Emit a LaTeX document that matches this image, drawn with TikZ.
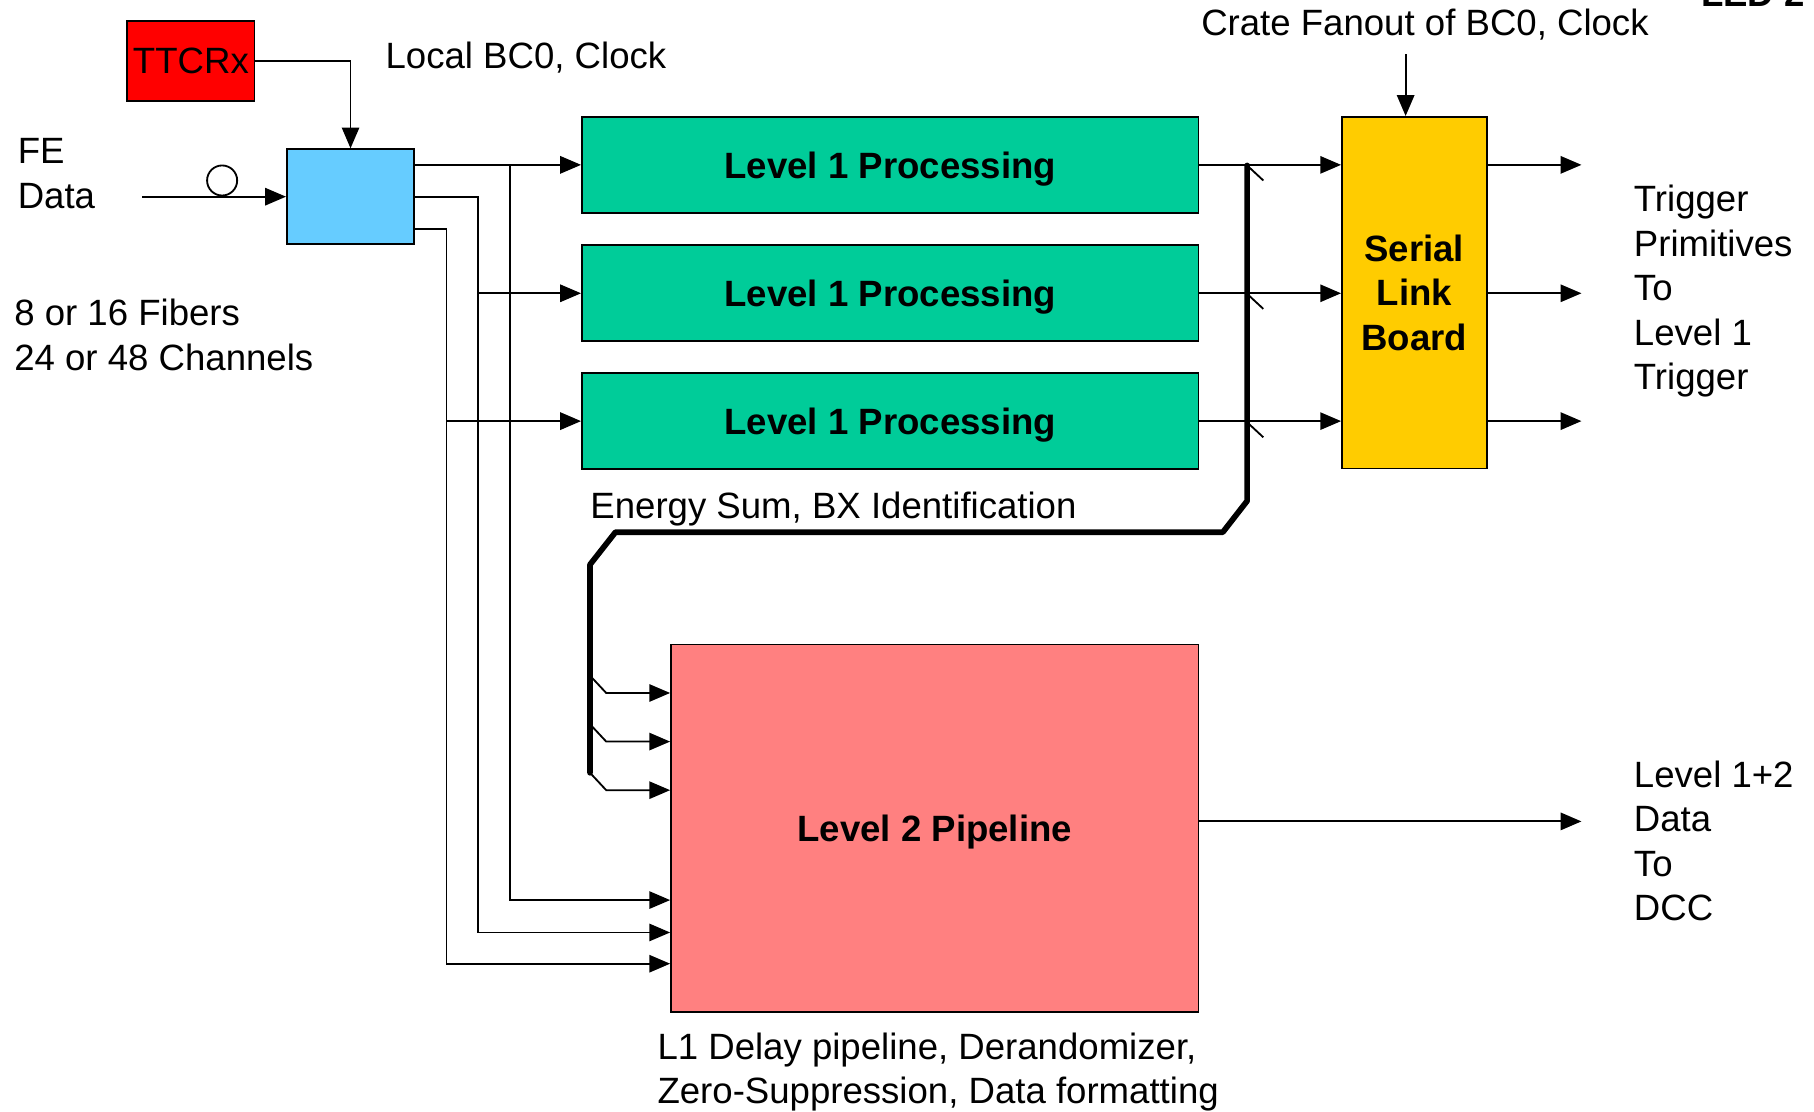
\documentclass[tikz,border=0pt]{standalone}
\usepackage{fontspec}
\setmainfont{Liberation Sans}
\usetikzlibrary{arrows.meta}
\definecolor{ttcred}{RGB}{255,0,0}
\definecolor{rxblue}{RGB}{102,204,255}
\definecolor{procgreen}{RGB}{0,204,153}
\definecolor{slbyellow}{RGB}{255,204,0}
\definecolor{pipepink}{RGB}{255,128,128}
\tikzset{
    every node/.style={
        font=\fontsize{18}{21.9}\selectfont
    },
    box/.style={
        rectangle,
        draw,
        line width=0.9pt,
        inner sep=0pt,
        align=center
    },
    redbox/.style={
        box,
        fill=ttcred,
        minimum width=2.2cm,
        minimum height=1.38cm
    },
    bluebox/.style={
        box,
        fill=rxblue,
        minimum width=2.2cm,
        minimum height=1.64cm
    },
    greenbox/.style={
        box,
        fill=procgreen,
        minimum width=10.66cm,
        minimum height=1.66cm,
        text depth=0pt,
        font=\fontsize{18}{21.9}\selectfont\bfseries
    },
    yellowbox/.style={
        box,
        fill=slbyellow,
        minimum width=2.5cm,
        minimum height=6.08cm,
        font=\fontsize{18}{21.9}\selectfont\bfseries
    },
    pinkbox/.style={
        box,
        fill=pipepink,
        minimum width=9.12cm,
        minimum height=6.36cm,
        text depth=0pt,
        font=\fontsize{18}{21.9}\selectfont\bfseries
    },
    lbl/.style={
        anchor=base west,
        inner sep=0pt,
        align=left
    },
    wire/.style={
        line width=0.9pt
    },
    arr/.style={
        wire,
        -{Triangle[length=0.36cm,width=0.3cm]}
    },
    bus/.style={
        line width=2.8pt,
        line cap=round,
        line join=round
    }
}
\begin{document}
\begin{tikzpicture}[x=0.02cm, y=-0.02cm]
    \useasboundingbox (0,0) rectangle (1568,961);

    \node[redbox] (ttcrx) at (165,52.5) {TTCRx};
    \node[bluebox] (rx) at (303,170) {};
    \node[greenbox] (lone) at (769.5,142.5) {Level 1 Processing};
    \node[greenbox] (ltwo) at (769.5,253.5) {Level 1 Processing};
    \node[greenbox] (lthree) at (769.5,364) {Level 1 Processing};
    \node[yellowbox] (slb) at (1222.5,253) {Serial\\Link\\Board};
    \node[pinkbox] (pipe) at (808,716) {Level 2 Pipeline};
    \node[circle, draw, wire, minimum size=0.52cm, inner sep=0pt] (loop) at (192,156) {};

    % texts (base is the last line)
    \node[lbl] (localtxt) at (333,59) {Local BC0, Clock};
    \node[lbl] (fetxt) at (15,180) {FE\\Data};
    \node[lbl] (fibtxt) at (12,320) {8 or 16 Fibers\\24 or 48 Channels};
    \node[lbl] (sumtxt) at (510,448) {Energy Sum, BX Identification};
    \node[lbl] (cratetxt) at (1038,31) {Crate Fanout of BC0, Clock};
    \node[lbl] (trigtxt) at (1412,337) {Trigger\\Primitives\\To\\Level 1\\Trigger};
    \node[lbl] (dcctxt) at (1412,796) {Level 1+2\\Data\\To\\DCC};
    \node[lbl] (l2txt) at (568,954) {L1 Delay pipeline, Derandomizer,\\Zero-Suppression, Data formatting};
    \node[lbl, font=\fontsize{18}{21.9}\selectfont\bfseries] (ledtxt) at (1470,6) {LED 2};

    \coordinate (fein) at (123,170);
    \coordinate (fan) at (1215,47);
    \coordinate (out3) at (358,198);
    \coordinate (c1) at (441,778);
    \coordinate (c2) at (413,806);
    \coordinate (c3) at (386,833);
    \coordinate (tout) at (1367,0);

    \draw[arr] (fein) -- (rx.west);
    \draw[arr] (ttcrx.east) -| (rx.north);
    \draw[arr] (fan) -- (fan |- slb.north);

    % front end to level 1 and level 2
    \draw[arr] (rx.east |- lone) -- (lone.west);
    \draw[arr] (c1 |- lone) -- (c1) -- (c1 -| pipe.west);
    \draw[arr] (rx.east) -| (c2) -- (c2 -| pipe.west);
    \draw[arr] (c2 |- ltwo) -- (ltwo.west);
    \draw[arr] (out3) -| (c3) -- (c3 -| pipe.west);
    \draw[arr] (c3 |- lthree) -- (lthree.west);

    \foreach \b in {lone,ltwo,lthree} {
        \draw[arr] (\b.east) -- (\b.east -| slb.west);
        \draw[arr] (\b.east -| slb.east) -- (\b.east -| tout);
    }
    \draw[arr] ([yshift=0.12cm]pipe.east) -- ([yshift=0.12cm]pipe.east -| tout);

    % bus
    \coordinate (busa) at (1078,143);
    \coordinate (busb) at (1078,433);
    \coordinate (busc) at (1057,460);
    \coordinate (busd) at (532,460);
    \coordinate (buse) at (510,488);
    \coordinate (busf) at (510,668);
    \draw[bus] (busa) -- (busb) -- (busc) -- (busd) -- (buse) -- (busf);
    \foreach \y in {143,254,365} {
        \draw[wire] (1078,\y) -- (1092,\y+13);
    }
    \foreach \y in {599,641,683} {
        \draw[arr] (510,\y-15) -- (524,\y) -- (pipe.west |- 0,\y);
    }
\end{tikzpicture}
\end{document}
